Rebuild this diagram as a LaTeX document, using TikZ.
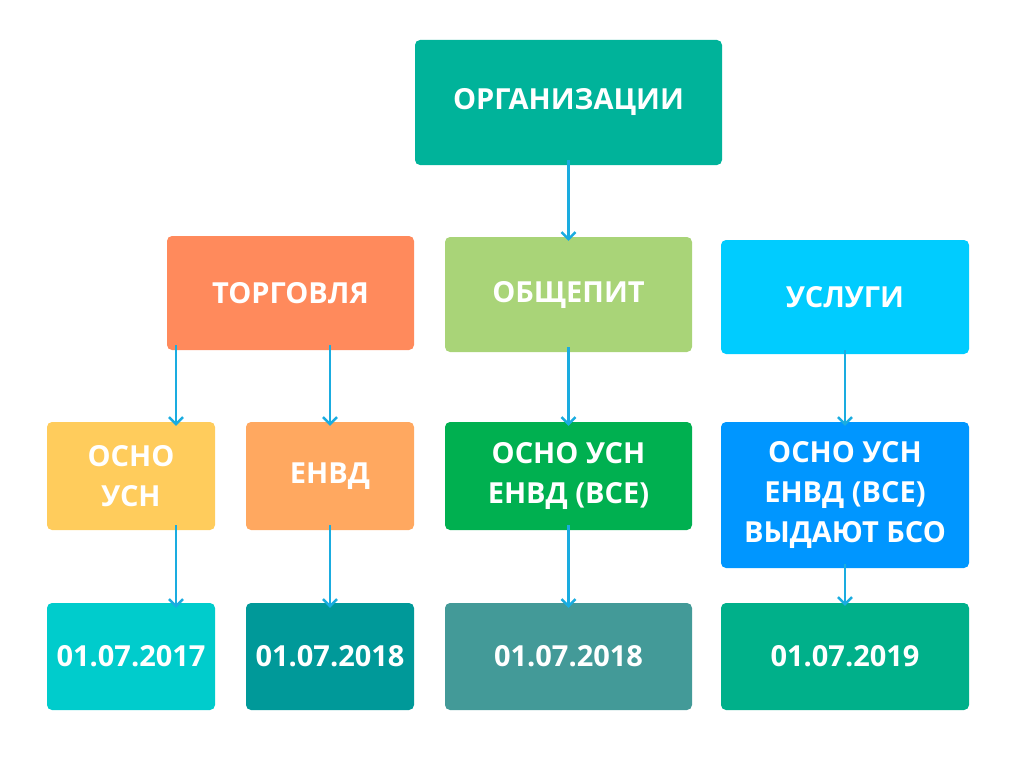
\documentclass[tikz,border=0pt]{standalone}
\usepackage{fontspec}
\setmainfont{Open Sans}
\usetikzlibrary{arrows.meta}
\definecolor{cOrg}{HTML}{00B39A}
\definecolor{cTorg}{HTML}{FF8A5C}
\definecolor{cPit}{HTML}{A9D478}
\definecolor{cUsl}{HTML}{00CCFF}
\definecolor{cOsno}{HTML}{FFCC5C}
\definecolor{cEnvd}{HTML}{FFA860}
\definecolor{cVse}{HTML}{00B050}
\definecolor{cBso}{HTML}{0096FF}
\definecolor{cDa}{HTML}{00CCCC}
\definecolor{cDb}{HTML}{009999}
\definecolor{cDc}{HTML}{439A98}
\definecolor{cDd}{HTML}{00B08A}
\definecolor{cArr}{HTML}{1AACE0}
\tikzset{
  mybox/.style={rectangle, rounded corners=5pt, text=white, align=center,
    font=\fontsize{29}{40}\selectfont\bfseries, inner sep=0pt},
  link/.style={draw=cArr, line width=2.5pt, -{Straight Barb[length=7pt,width=14pt]}}
}
\begin{document}
\begin{tikzpicture}[x=1pt,y=-1pt]
\useasboundingbox (0,0) rectangle (1024,768);
% first rows
\node [mybox, fill=cOrg, minimum width=307, minimum height=125] (org) at (568.5,102.5) {ОРГАНИЗАЦИИ};
\node [mybox, fill=cTorg, minimum width=247, minimum height=114] (torg) at (290.5,293) {ТОРГОВЛЯ};
\node [mybox, fill=cPit, minimum width=247, minimum height=115] (pit) at (568.5,294.5) {ОБЩЕПИТ};
\node [mybox, fill=cUsl, minimum width=248, minimum height=114] (usl) at (845,297) {УСЛУГИ};
% regimes
\node [mybox, fill=cOsno, minimum width=168, minimum height=108] (osno) at (131,476) {ОСНО\\УСН};
\node [mybox, fill=cEnvd, minimum width=168, minimum height=108] (envd) at (330,476) {ЕНВД};
\node [mybox, fill=cVse, minimum width=247, minimum height=108] (vse) at (568.5,476) {ОСНО УСН\\ЕНВД (ВСЕ)};
\node [mybox, fill=cBso, minimum width=248, minimum height=146] (bso) at (845,495) {ОСНО УСН\\ЕНВД (ВСЕ)\\ВЫДАЮТ БСО};
% dates
\node [mybox, fill=cDa, minimum width=168, minimum height=107] (da) at (131,656.5) {01.07.2017};
\node [mybox, fill=cDb, minimum width=168, minimum height=107] (db) at (330,656.5) {01.07.2018};
\node [mybox, fill=cDc, minimum width=247, minimum height=107] (dc) at (568.5,656.5) {01.07.2018};
\node [mybox, fill=cDd, minimum width=248, minimum height=107] (dd) at (845,656.5) {01.07.2019};
% arrows
\draw [link] ([yshift=5]org.south) -- ([yshift=-4]pit.north);
\draw [link] ([xshift=-114.5,yshift=5]torg.south) -- ([xshift=45,yshift=-4]osno.north);
\draw [link] ([xshift=39.5,yshift=5]torg.south) -- ([yshift=-4]envd.north);
\draw [link] ([yshift=5]pit.south) -- ([yshift=-4]vse.north);
\draw [link] ([yshift=4]usl.south) -- ([yshift=-4]bso.north);
\draw [link] ([xshift=45,yshift=5]osno.south) -- ([xshift=45,yshift=-5]da.north);
\draw [link] ([yshift=5]envd.south) -- ([yshift=-5]db.north);
\draw [link] ([yshift=5]vse.south) -- ([yshift=-5]dc.north);
\draw [link] ([yshift=4]bso.south) -- ([yshift=-3]dd.north);
\end{tikzpicture}
\end{document}
